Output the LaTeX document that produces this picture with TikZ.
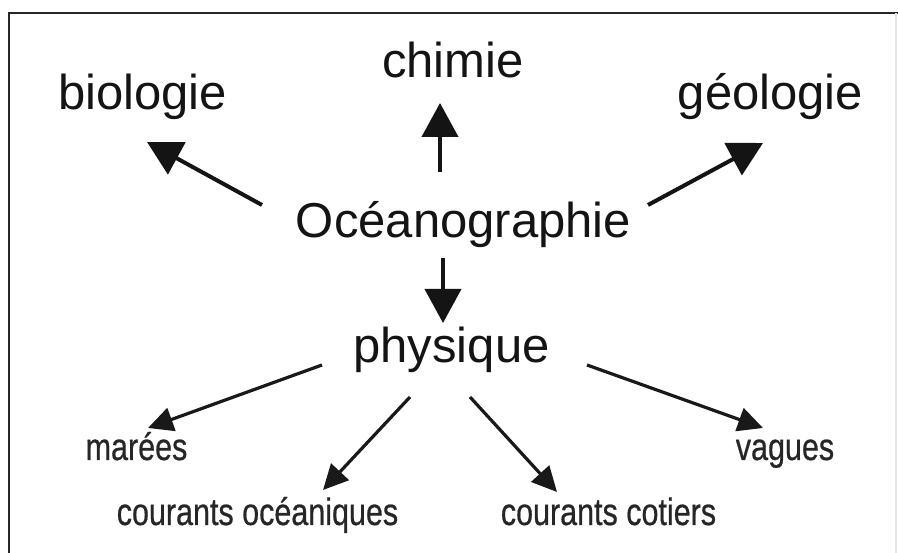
\documentclass[tikz,border=0pt]{standalone}
\usepackage{fontspec}
\setmainfont{Liberation Sans}
\newfontfamily\smallfont[FakeBold=0.6]{Liberation Sans}
\usetikzlibrary{arrows.meta}
\begin{document}
\begin{tikzpicture}[x=1pt,y=1pt,
  bigtxt/.style={inner sep=0pt,anchor=base,text=black!92,font=\fontsize{49}{55}\selectfont},
  smalltxt/.style={inner sep=0pt,anchor=base,text=black!85,font=\smallfont\fontsize{30.5}{34}\selectfont},
  bigarrow/.style={line width=4pt,black!92,-{Triangle[length=34pt,width=36pt]}},
  smallarrow/.style={line width=3.2pt,black!90,-{Triangle[length=25pt,width=24pt]}},
  frameline/.style={line width=2.5pt,black!85}]
\useasboundingbox (0,0) rectangle (898,553);
\fill[white] (0,0) rectangle (898,553);
% frame
\draw[frameline] (9,0) -- (9,540) -- (898,540);
\draw[line width=1.5pt,black!10] (896,540) -- (896,0);
% nodes
\node[bigtxt] (oc) at (463.5,315) {Océanographie};
\node[bigtxt] (bio) at (142.5,443) {biologie};
\node[bigtxt] (chim) at (453,475) {chimie};
\node[bigtxt] (geo) at (770.5,443) {géologie};
\node[bigtxt] (phys) at (451.5,190) {physique};
\node[smalltxt] (mar) at (136.5,93) {\scalebox{1}[1.25]{marées}};
\node[smalltxt] (coc) at (257.5,28) {\scalebox{1}[1.25]{courants océaniques}};
\node[smalltxt] (cot) at (608.5,28) {\scalebox{1}[1.25]{courants cotiers}};
\node[smalltxt] (vag) at (785,93) {\scalebox{1}[1.25]{vagues}};
% big arrows
\draw[bigarrow] ([shift={(-201.5,33)}]oc.base) -- ([shift={(4.5,-32)}]bio.base);
\draw[bigarrow] ([shift={(-23.5,66)}]oc.base) -- ([shift={(-13,-25)}]chim.base);
\draw[bigarrow] ([shift={(184.5,33)}]oc.base) -- ([shift={(-7.5,-33)}]geo.base);
\draw[bigarrow] ([shift={(-20.5,-20)}]oc.base) -- ([shift={(-8.5,40)}]phys.base);
% small arrows
\draw[smallarrow] ([shift={(-129.5,-2)}]phys.base) -- ([shift={(11.5,32)}]mar.base);
\draw[smallarrow] ([shift={(-41.5,-34)}]phys.base) -- ([shift={(65.5,35)}]coc.base);
\draw[smallarrow] ([shift={(18.5,-34)}]phys.base) -- ([shift={(-51.5,33)}]cot.base);
\draw[smallarrow] ([shift={(135.5,-2)}]phys.base) -- ([shift={(-22,32)}]vag.base);
\end{tikzpicture}
\end{document}
